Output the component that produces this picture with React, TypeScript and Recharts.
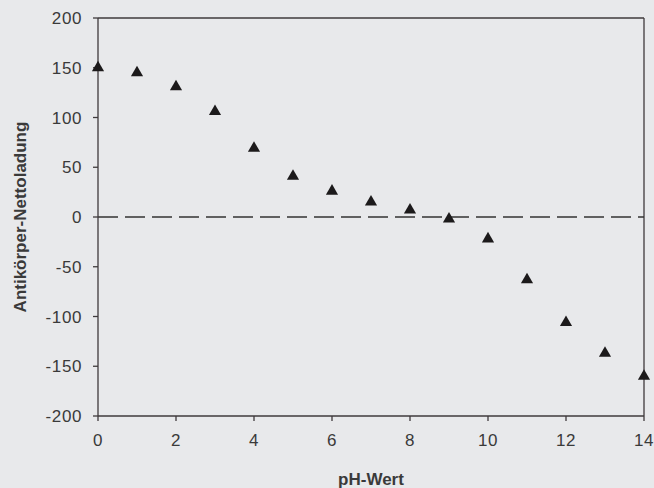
import { ReferenceLine, Scatter, ScatterChart, XAxis, YAxis, ZAxis } from "recharts"

// pH value and net antibody charge at that pH
const phValues = [0, 1, 2, 3, 4, 5, 6, 7, 8, 9, 10, 11, 12, 13, 14]
const netCharge = [150, 145, 131, 106, 69, 41, 26, 15, 7, -2, -22, -63, -106, -137, -160]

const xTicks = [0, 2, 4, 6, 8, 10, 12, 14]
const yTicks = [-200, -150, -100, -50, 0, 50, 100, 150, 200]

const data = phValues.map((ph, i) => ({ ph, charge: netCharge[i] }))

const axisColor = "#3f3a3c"
const textColor = "#3a3a3a"
const font = "'Liberation Sans', Arial, sans-serif"

export default function App() {
  return (
    <div
      style={{
        position: "fixed",
        left: 0,
        top: 0,
        width: 654,
        height: 488,
        background: "#e8e9eb",
        fontFamily: font,
      }}
    >
      <ScatterChart width={654} height={488} margin={{ top: 18, right: 10, bottom: 0, left: 0 }}>
        <XAxis
          type="number"
          dataKey="ph"
          domain={[0, 14]}
          ticks={xTicks}
          height={72}
          stroke={axisColor}
          strokeWidth={1.3}
          tickSize={5}
          tickMargin={13}
          tick={{ fill: textColor, fontSize: 17, fontFamily: font, letterSpacing: 0.6 }}
          label={{
            value: "pH-Wert",
            position: "insideBottom",
            offset: 3,
            fill: textColor,
            fontSize: 17,
            fontWeight: "bold",
            fontFamily: font,
          }}
        />
        <YAxis
          type="number"
          dataKey="charge"
          domain={[-200, 200]}
          ticks={yTicks}
          width={98}
          stroke={axisColor}
          strokeWidth={1.3}
          tickSize={5}
          tickMargin={11}
          tick={{ fill: textColor, fontSize: 17, fontFamily: font, letterSpacing: 0.6 }}
          label={{
            value: "Antikörper-Nettoladung",
            angle: -90,
            position: "insideLeft",
            offset: 20,
            style: { textAnchor: "middle" },
            fill: textColor,
            fontSize: 17,
            fontWeight: "bold",
            fontFamily: font,
          }}
        />
        <ZAxis range={[62, 62]} />
        {/* frame top and right */}
        <ReferenceLine y={200} stroke={axisColor} strokeWidth={1.3} />
        <ReferenceLine x={14} stroke={axisColor} strokeWidth={1.3} />
        {/* zero line */}
        <ReferenceLine y={0} stroke="#333" strokeWidth={1.5} strokeDasharray="20 7" />
        <Scatter data={data} shape="triangle" fill="#1c1a1b" isAnimationActive={false} />
      </ScatterChart>
    </div>
  )
}
